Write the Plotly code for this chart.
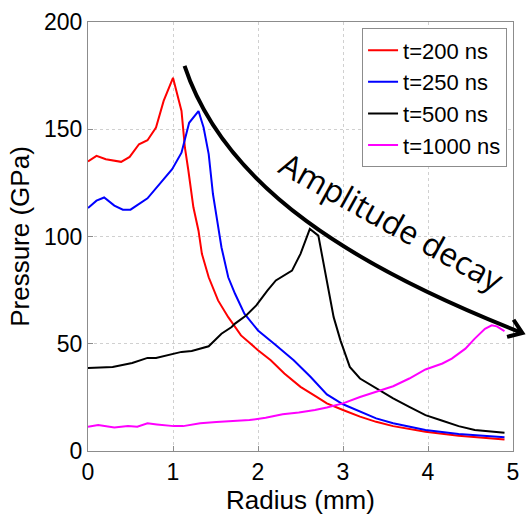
import math
import plotly.graph_objects as go

# Radial pressure profiles at four times after the pulse
r_200 = [0, 0.10, 0.21, 0.39, 0.49, 0.60, 0.70, 0.80, 0.89, 1.00, 1.10, 1.14, 1.18, 1.24, 1.30,
         1.34, 1.42, 1.53, 1.65, 1.80, 2.00, 2.15, 2.31, 2.50, 2.69, 2.81, 3.00, 3.20, 3.39,
         3.59, 3.97, 4.36, 4.90]
p_200 = [135, 137.6, 136, 134.8, 137.1, 143, 144.9, 150.8, 163.2, 174, 158.5, 141.5, 131, 113.6,
         102.7, 91.9, 81, 70.2, 62.4, 53.9, 47, 42.3, 36.1, 29.9, 25.2, 22.2, 19.1, 16, 13.6,
         11.6, 9.0, 7.1, 5.4]

r_250 = [0, 0.10, 0.19, 0.31, 0.41, 0.50, 0.70, 0.87, 0.99, 1.10, 1.19, 1.30, 1.36, 1.42, 1.47,
         1.52, 1.57, 1.65, 1.73, 1.84, 2.00, 2.19, 2.42, 2.62, 2.81, 3.00, 3.20, 3.39, 3.59,
         3.97, 4.36, 4.90]
p_250 = [113.3, 116.7, 118.2, 114.4, 112.5, 112.5, 117.8, 126, 131.4, 139.1, 153, 158.5, 150.8,
         138.4, 119.8, 107.4, 95, 81, 73.3, 64, 56.2, 50, 42.3, 34.5, 26.4, 21.8, 18.3, 15.2,
         12.9, 9.8, 7.9, 6.4]

r_500 = [0, 0.29, 0.52, 0.70, 0.80, 0.99, 1.10, 1.22, 1.42, 1.57, 1.69, 1.73, 1.86, 1.98, 2.11,
         2.21, 2.31, 2.40, 2.50, 2.61, 2.71, 2.79, 2.89, 2.97, 3.04, 3.08, 3.20, 3.39, 3.59,
         3.78, 3.97, 4.17, 4.36, 4.55, 4.90]
p_500 = [38.7, 39.2, 41, 43.4, 43.4, 45, 46.2, 46.6, 48.8, 54.7, 57.8, 59.4, 63.2, 67.9, 74.8,
         79.5, 81.8, 84.1, 91.9, 103.5, 100.4, 84.1, 62.4, 51.6, 43.8, 39.2, 33.8, 29.1, 24.5,
         20.6, 16.7, 14.1, 11.6, 9.8, 8.5]

r_1000 = [0, 0.12, 0.31, 0.47, 0.58, 0.70, 0.81, 1.01, 1.12, 1.32, 1.51, 1.71, 1.90, 2.09, 2.29,
          2.48, 2.67, 2.81, 3.00, 3.20, 3.39, 3.59, 3.78, 3.97, 4.17, 4.28, 4.44, 4.55, 4.67,
          4.75, 4.81, 4.90]
p_1000 = [11.3, 12.1, 11.0, 11.6, 11.3, 12.9, 12.4, 11.6, 11.6, 12.9, 13.5, 13.8, 14.4, 15.5,
          17.1, 18.0, 19.1, 20.3, 22.2, 25.2, 27.6, 30.2, 33.8, 38.0, 40.8, 43.1, 47.7, 52.4,
          57.0, 58.6, 58.1, 55.9]

series_names = ["t=200 ns", "t=250 ns", "t=500 ns", "t=1000 ns"]
series_colors = ["#ff0000", "#0000ff", "#000000", "#ff00ff"]

x_ticks = [0, 1, 2, 3, 4, 5]
y_ticks = [0, 50, 100, 150, 200]
X_MAX, Y_MAX = 5, 200

# Guide curve for the peak decay: cubic Bezier in (radius, pressure), ends past the right edge
decay_start = (1.136, 179.5)
decay_c1 = (1.616, 122.2)
decay_c2 = (3.160, 85.3)
decay_end = (5.110, 55.0)

W, H = 528, 520
ML, MR, MT, MB = 88, 9, 21, 69
PW, PH = W - ML - MR, H - MT - MB


def to_paper(pt):
    return pt[0] / X_MAX, pt[1] / Y_MAX


fig = go.Figure()
for xs, ys, name, color in zip([r_200, r_250, r_500, r_1000],
                               [p_200, p_250, p_500, p_1000],
                               series_names, series_colors):
    fig.add_trace(go.Scatter(x=xs, y=ys, mode="lines", name=name,
                             line=dict(color=color, width=2)))

p0, p1, p2, p3 = (to_paper(p) for p in (decay_start, decay_c1, decay_c2, decay_end))
path = (f"M {p0[0]:.4f},{p0[1]:.4f} C {p1[0]:.4f},{p1[1]:.4f} "
        f"{p2[0]:.4f},{p2[1]:.4f} {p3[0]:.4f},{p3[1]:.4f}")
fig.add_shape(type="path", path=path, xref="paper", yref="paper",
              line=dict(color="black", width=4), layer="above")

# Open arrowhead aligned with the end tangent of the curve
ang = math.atan2((p3[1] - p2[1]) * PH, (p3[0] - p2[0]) * PW)
arm = 16
head = []
for da in (math.radians(145), math.radians(-145)):
    a = ang + da
    head.append((p3[0] + arm * math.cos(a) / PW, p3[1] + arm * math.sin(a) / PH))
head_path = (f"M {head[0][0]:.4f},{head[0][1]:.4f} L {p3[0]:.4f},{p3[1]:.4f} "
             f"L {head[1][0]:.4f},{head[1][1]:.4f}")
fig.add_shape(type="path", path=head_path, xref="paper", yref="paper",
              line=dict(color="black", width=4), layer="above")

fig.add_annotation(x=3.58, y=106.8, xref="x", yref="y", text="Amplitude decay",
                   showarrow=False, textangle=29,
                   font=dict(family="Open Sans, Lato, sans-serif", size=32, color="black"))

axis_common = dict(
    showline=True, linecolor="#8c8c8c", linewidth=1, mirror=True,
    ticks="inside", ticklen=5, tickcolor="#8c8c8c",
    showgrid=True, gridcolor="#d0d0d0", griddash="dot", gridwidth=1,
    zeroline=False, tickfont=dict(size=23, color="black"),
)

fig.update_layout(
    width=W, height=H,
    margin=dict(l=ML, r=MR, t=MT, b=MB),
    paper_bgcolor="white", plot_bgcolor="white",
    font=dict(family="Liberation Sans, Arial, sans-serif", color="black"),
    showlegend=True,
    legend=dict(x=0.986, y=0.985, xanchor="right", yanchor="top",
                bgcolor="white", bordercolor="#8c8c8c", borderwidth=1,
                font=dict(size=22), tracegroupgap=0, itemwidth=30),
    xaxis=dict(range=[0, X_MAX], tickvals=x_ticks,
               title=dict(text="Radius (mm)", font=dict(size=26), standoff=4),
               **axis_common),
    yaxis=dict(range=[0, Y_MAX], tickvals=y_ticks,
               title=dict(text="Pressure (GPa)", font=dict(size=26), standoff=6),
               **axis_common),
)

fig.write_html("out.html")
